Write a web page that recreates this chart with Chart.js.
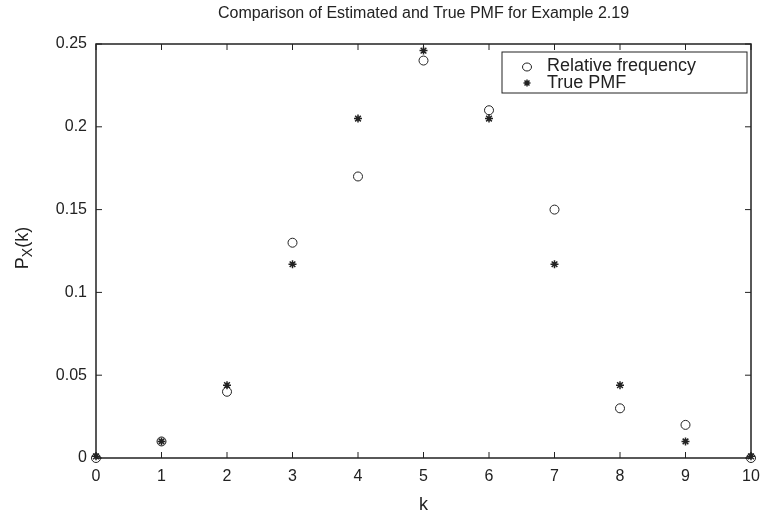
<!DOCTYPE html>
<html>
<head>
<meta charset="utf-8">
<script src="https://cdn.jsdelivr.net/npm/chart.js@4/dist/chart.umd.min.js"></script>
<style>
  body { margin: 0; background: #fff; }
  #wrap { width: 764px; height: 517px; }
</style>
</head>
<body>
<div id="wrap"><canvas id="pmf"></canvas></div>
<script>
// k values
const kValues = [0, 1, 2, 3, 4, 5, 6, 7, 8, 9, 10];
// Relative frequency (estimated)
const relFreq = [0, 0.01, 0.04, 0.13, 0.17, 0.24, 0.21, 0.15, 0.03, 0.02, 0];
// True PMF
const truePmf = [0.001, 0.01, 0.044, 0.117, 0.205, 0.246, 0.205, 0.117, 0.044, 0.01, 0.001];
// Y tick labels
const yTickLabels = ["0", "0.05", "0.1", "0.15", "0.2", "0.25"];

const ink = "#222";
const fontFam = "'Liberation Sans', Arial, sans-serif";

// Box, inward ticks, title, y label and legend, MATLAB style
const matlabFrame = {
  id: "matlabFrame",
  afterDraw(chart) {
    const ctx = chart.ctx;
    const a = chart.chartArea;
    const xs = chart.scales.x, ys = chart.scales.y;
    ctx.save();
    ctx.strokeStyle = ink;
    ctx.lineWidth = 1.5;
    ctx.strokeRect(a.left, a.top, a.right - a.left, a.bottom - a.top);
    ctx.lineWidth = 1;
    ctx.beginPath();
    xs.ticks.forEach(t => {
      const x = xs.getPixelForValue(t.value);
      ctx.moveTo(x, a.bottom); ctx.lineTo(x, a.bottom - 6);
      ctx.moveTo(x, a.top); ctx.lineTo(x, a.top + 6);
    });
    ys.ticks.forEach(t => {
      const y = ys.getPixelForValue(t.value);
      ctx.moveTo(a.left, y); ctx.lineTo(a.left + 6, y);
      ctx.moveTo(a.right, y); ctx.lineTo(a.right - 6, y);
    });
    ctx.stroke();

    // title
    ctx.fillStyle = ink;
    ctx.font = "16px " + fontFam;
    ctx.textAlign = "center";
    ctx.textBaseline = "middle";
    ctx.fillText("Comparison of Estimated and True PMF for Example 2.19", (a.left + a.right) / 2, 14);

    // x label
    ctx.font = "18px " + fontFam;
    ctx.fillText("k", (a.left + a.right) / 2, 505);

    // y label with subscript
    ctx.save();
    ctx.translate(23, (a.top + a.bottom) / 2 - 3);
    ctx.rotate(-Math.PI / 2);
    ctx.textAlign = "left";
    ctx.textBaseline = "middle";
    ctx.font = "18px " + fontFam;
    const pW = ctx.measureText("P").width;
    ctx.font = "14px " + fontFam;
    const xW = ctx.measureText("X").width;
    ctx.font = "18px " + fontFam;
    const kW = ctx.measureText("(k)").width;
    let x0 = -(pW + xW + kW) / 2;
    ctx.fillText("P", x0, 0);
    ctx.font = "14px " + fontFam;
    ctx.fillText("X", x0 + pW, 5);
    ctx.font = "18px " + fontFam;
    ctx.fillText("(k)", x0 + pW + xW, 0);
    ctx.restore();

    // legend
    const bx = a.right - 249, by = a.top + 8, bw = 245, bh = 41;
    ctx.fillStyle = "#fff";
    ctx.fillRect(bx, by, bw, bh);
    ctx.strokeStyle = ink;
    ctx.lineWidth = 1;
    ctx.strokeRect(bx, by, bw, bh);
    ctx.beginPath();
    ctx.ellipse(bx + 25, by + 15, 4.5, 4, 0, 0, Math.PI * 2);
    ctx.stroke();
    ctx.beginPath();
    const sx = bx + 25, sy = by + 31, r = 3.5;
    for (let i = 0; i < 4; i++) {
      const ang = i * Math.PI / 4;
      ctx.moveTo(sx - r * Math.cos(ang), sy - r * Math.sin(ang));
      ctx.lineTo(sx + r * Math.cos(ang), sy + r * Math.sin(ang));
    }
    ctx.lineWidth = 1.5;
    ctx.stroke();
    ctx.fillStyle = ink;
    ctx.font = "18px " + fontFam;
    ctx.textAlign = "left";
    ctx.fillText("Relative frequency", bx + 45, by + 14);
    ctx.fillText("True PMF", bx + 45, by + 31);
    ctx.restore();
  }
};

new Chart(document.getElementById("pmf"), {
  type: "scatter",
  plugins: [matlabFrame],
  data: {
    datasets: [
      {
        label: "Relative frequency",
        data: kValues.map((k, i) => ({ x: k, y: relFreq[i] })),
        pointStyle: "circle",
        pointRadius: 4.5,
        borderColor: ink,
        backgroundColor: "rgba(0,0,0,0)",
        borderWidth: 1,
        clip: false,
      },
      {
        label: "True PMF",
        data: kValues.map((k, i) => ({ x: k, y: truePmf[i] })),
        pointStyle: "star",
        pointRadius: 4,
        borderColor: ink,
        backgroundColor: ink,
        borderWidth: 1.5,
        clip: false,
      },
    ],
  },
  options: {
    responsive: true,
    maintainAspectRatio: false,
    animation: false,
    layout: { padding: { top: 44, right: 13, left: 0, bottom: 0 } },
    plugins: {
      legend: { display: false },
      tooltip: { enabled: false },
    },
    scales: {
      x: {
        type: "linear",
        min: 0, max: 10,
        grid: { display: false, drawTicks: false },
        border: { display: false },
        ticks: { stepSize: 1, color: ink, padding: 9, font: { family: fontFam, size: 16 } },
        afterFit: (s) => { s.height = 59; s.paddingLeft = 0; s.paddingRight = 0; },
      },
      y: {
        min: 0, max: 0.25,
        grid: { display: false, drawTicks: false },
        border: { display: false },
        ticks: {
          stepSize: 0.05, color: ink, padding: 9,
          font: { family: fontFam, size: 16 },
          callback: (v, i) => yTickLabels[i],
        },
        afterFit: (s) => { s.width = 96; s.paddingTop = 0; s.paddingBottom = 0; },
      },
    },
  },
});
</script>
</body>
</html>
